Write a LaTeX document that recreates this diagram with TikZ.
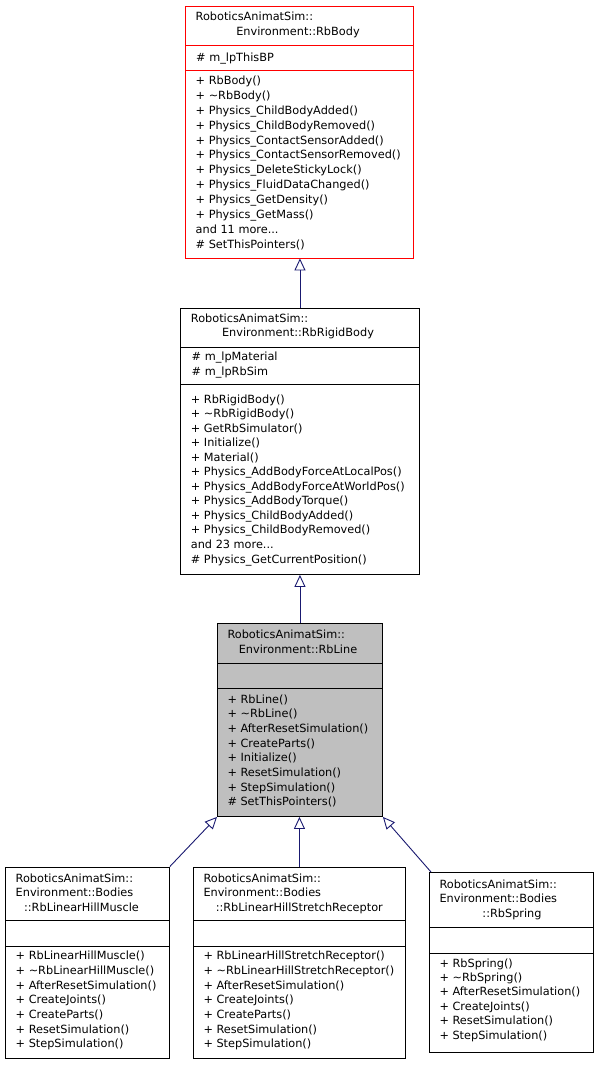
\documentclass[tikz,border=0pt]{standalone}
\usepackage{fontspec}
\setmainfont{DejaVu Sans}
\usetikzlibrary{arrows.meta}
\definecolor{edgeblue}{HTML}{191970}
\definecolor{boxgray}{HTML}{BFBFBF}
\definecolor{boxred}{HTML}{FF0000}
\newcommand\threedots{...}
\tikzset{
  classbox/.style={draw=black, line width=0.9pt, inner sep=0pt, anchor=north west, fill=white},
  sepline/.style={draw=black, line width=0.9pt},
  txt/.style={anchor=west, inner sep=0pt, font=\fontsize{11.3}{14}\selectfont, text height=8.5pt, text depth=2.5pt},
  ctxt/.style={txt, anchor=center},
  inherit/.style={draw=edgeblue, line width=0.9pt, -{Triangle[open, length=12pt, width=11pt]}},
}
\begin{document}
\begin{tikzpicture}[x=1pt, y=-1pt]
\useasboundingbox (0,0) rectangle (599,1065);
\fill[white] (0,0) rectangle (599,1065);

% ---------- RbBody ----------
\node[classbox, draw=boxred, minimum width=227.5pt, minimum height=251.5pt] (body) at (185,6) {};
\draw[sepline, draw=boxred] (185,45.7) -- (412.5,45.7);
\draw[sepline, draw=boxred] (185,70.7) -- (412.5,70.7);
\node[txt] (body-t1) at (195.5,17.5) {RoboticsAnimatSim::};
\node[ctxt] (body-t2) at (298,32.5) {Environment::RbBody};
\node[txt] (body-a1) at (196,58.3) {\# m\_lpThisBP};
\foreach \t [count=\i from 0] in {%
  {+ RbBody()},{+ \textasciitilde RbBody()},{+ Physics\_ChildBodyAdded()},%
  {+ Physics\_ChildBodyRemoved()},{+ Physics\_ContactSensorAdded()},%
  {+ Physics\_ContactSensorRemoved()},{+ Physics\_DeleteStickyLock()},%
  {+ Physics\_FluidDataChanged()},{+ Physics\_GetDensity()},%
  {+ Physics\_GetMass()},{and 11 more\threedots},{\# SetThisPointers()}}
  \node[txt] (body-m\i) at (195.5,81.7+\i*14.85) {\t};

% ---------- RbRigidBody ----------
\node[classbox, minimum width=239pt, minimum height=266.3pt] (rigid) at (180,307.7) {};
\draw[sepline] (180,347) -- (419,347);
\draw[sepline] (180,384) -- (419,384);
\node[txt] (rigid-t1) at (190.7,319.3) {RoboticsAnimatSim::};
\node[ctxt] (rigid-t2) at (298,333.5) {Environment::RbRigidBody};
\node[txt] (rigid-a1) at (191.5,357.5) {\# m\_lpMaterial};
\node[txt] (rigid-a2) at (191.5,372.5) {\# m\_lpRbSim};
\foreach \t [count=\i from 0] in {%
  {+ RbRigidBody()},{+ \textasciitilde RbRigidBody()},{+ GetRbSimulator()},%
  {+ Initialize()},{+ Material()},{+ Physics\_AddBodyForceAtLocalPos()},%
  {+ Physics\_AddBodyForceAtWorldPos()},{+ Physics\_AddBodyTorque()},%
  {+ Physics\_ChildBodyAdded()},{+ Physics\_ChildBodyRemoved()},%
  {and 23 more\threedots},{\# Physics\_GetCurrentPosition()}}
  \node[txt] (rigid-m\i) at (190.7,400+\i*14.55) {\t};

% ---------- RbLine ----------
\node[classbox, fill=boxgray, minimum width=165pt, minimum height=193pt] (line) at (217,623) {};
\draw[sepline] (217,663) -- (382,663);
\draw[sepline] (217,688) -- (382,688);
\node[txt] (line-t1) at (227.3,635) {RoboticsAnimatSim::};
\node[ctxt] (line-t2) at (298,650) {Environment::RbLine};
\foreach \t [count=\i from 0] in {%
  {+ RbLine()},{+ \textasciitilde RbLine()},{+ AfterResetSimulation()},%
  {+ CreateParts()},{+ Initialize()},{+ ResetSimulation()},%
  {+ StepSimulation()},{\# SetThisPointers()}}
  \node[txt] (line-m\i) at (227.3,700+\i*14.67) {\t};

% ---------- RbLinearHillMuscle ----------
\node[classbox, minimum width=164pt, minimum height=191.5pt] (muscle) at (5,866.5) {};
\draw[sepline] (5,920) -- (169,920);
\draw[sepline] (5,946) -- (169,946);
\node[txt] (muscle-t1) at (15.5,879) {RoboticsAnimatSim::};
\node[txt] (muscle-t2) at (15.5,893.5) {Environment::Bodies};
\node[ctxt] (muscle-t3) at (81.5,908) {::RbLinearHillMuscle};
\foreach \t [count=\i from 0] in {%
  {+ RbLinearHillMuscle()},{+ \textasciitilde RbLinearHillMuscle()},%
  {+ AfterResetSimulation()},{+ CreateJoints()},{+ CreateParts()},%
  {+ ResetSimulation()},{+ StepSimulation()}}
  \node[txt] (muscle-m\i) at (15.5,956.7+\i*14.7) {\t};

% ---------- RbLinearHillStretchReceptor ----------
\node[classbox, minimum width=212pt, minimum height=191.5pt] (stretch) at (193,866.5) {};
\draw[sepline] (193,920) -- (405,920);
\draw[sepline] (193,946) -- (405,946);
\node[txt] (stretch-t1) at (203.3,879) {RoboticsAnimatSim::};
\node[txt] (stretch-t2) at (203.3,893.5) {Environment::Bodies};
\node[ctxt] (stretch-t3) at (299.3,908) {::RbLinearHillStretchReceptor};
\foreach \t [count=\i from 0] in {%
  {+ RbLinearHillStretchReceptor()},{+ \textasciitilde RbLinearHillStretchReceptor()},%
  {+ AfterResetSimulation()},{+ CreateJoints()},{+ CreateParts()},%
  {+ ResetSimulation()},{+ StepSimulation()}}
  \node[txt] (stretch-m\i) at (203.3,956.7+\i*14.7) {\t};

% ---------- RbSpring ----------
\node[classbox, minimum width=164pt, minimum height=180pt] (spring) at (429,872) {};
\draw[sepline] (429,927) -- (593,927);
\draw[sepline] (429,953) -- (593,953);
\node[txt] (spring-t1) at (439.3,885) {RoboticsAnimatSim::};
\node[txt] (spring-t2) at (439.3,899.4) {Environment::Bodies};
\node[ctxt] (spring-t3) at (512,914) {::RbSpring};
\foreach \t [count=\i from 0] in {%
  {+ RbSpring()},{+ \textasciitilde RbSpring()},{+ AfterResetSimulation()},%
  {+ CreateJoints()},{+ ResetSimulation()},{+ StepSimulation()}}
  \node[txt] (spring-m\i) at (439.3,964+\i*14.4) {\t};

% ---------- inheritance connectors ----------
\draw[inherit] (rigid.north) -- (rigid.north |- body.south);
\draw[inherit] (line.north) -- (line.north |- rigid.south);
\draw[inherit] (muscle.north east) -- (line.south west);
\draw[inherit] (stretch.north) -- (stretch.north |- line.south);
\draw[inherit] ([xshift=2pt]spring.north west) -- (line.south east);
\end{tikzpicture}
\end{document}
